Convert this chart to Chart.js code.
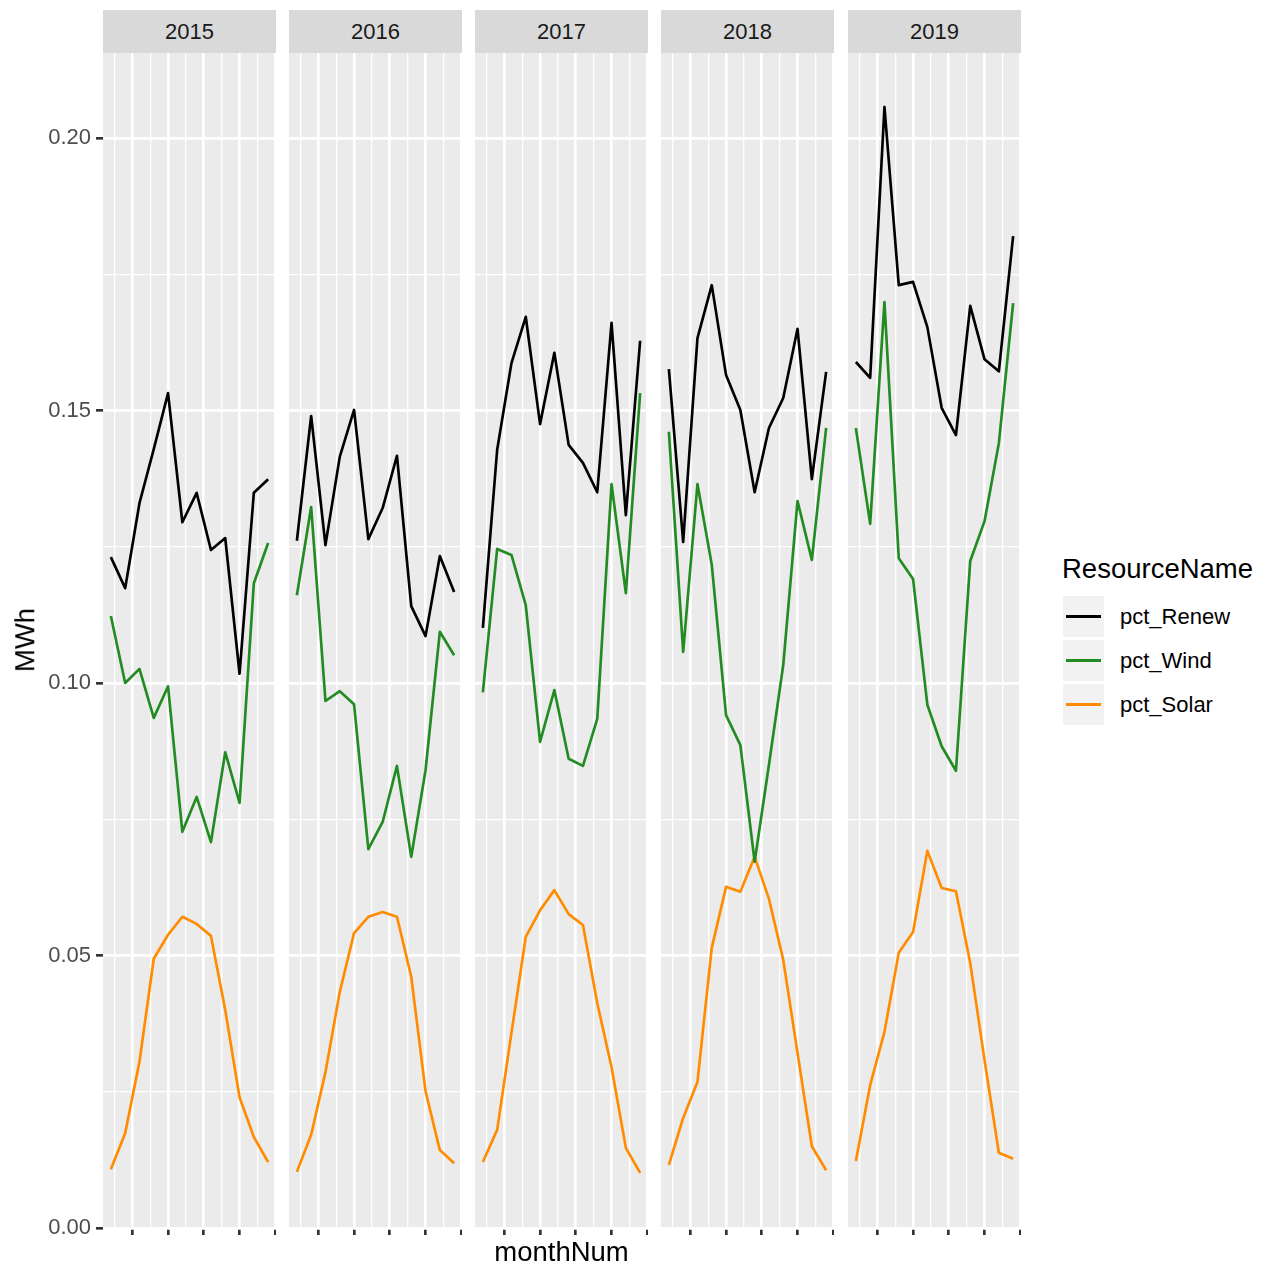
<!DOCTYPE html>
<html>
<head>
<meta charset="utf-8">
<script src="https://cdn.jsdelivr.net/npm/chart.js@4.4.1/dist/chart.umd.min.js"></script>
<style>
  body { margin: 0; background: #fff; font-family: 'Liberation Sans', Arial, sans-serif; }
  #wrap { position: relative; width: 1269px; height: 1271px; overflow: hidden; }
  canvas { position: absolute; }
  .strip { position: absolute; top: 10px; height: 43px; background: #D9D9D9; color: #1A1A1A;
           font-size: 22px; display: flex; align-items: center; justify-content: center; }
  .lbl { position: absolute; white-space: nowrap; line-height: 1; }
  .key { position: absolute; left: 1063px; width: 41px; height: 41px; background: #F2F2F2; }
  .key i { position: absolute; left: 3px; right: 3px; top: 19px; height: 2.7px; }
</style>
</head>
<body>
<div id="wrap"></div>
<script>
// facets and months
const years = ['2015', '2016', '2017', '2018', '2019'];
const months = [1, 2, 3, 4, 5, 6, 7, 8, 9, 10, 11, 12];

// one row per year, Jan..Dec
const renew = [
  [0.1231, 0.1174, 0.1330, 0.1429, 0.1532, 0.1295, 0.1349, 0.1244, 0.1266, 0.1017, 0.1349, 0.1374],
  [0.1261, 0.1490, 0.1253, 0.1415, 0.1501, 0.1264, 0.1321, 0.1417, 0.1141, 0.1086, 0.1233, 0.1167],
  [0.1101, 0.1428, 0.1587, 0.1672, 0.1475, 0.1606, 0.1437, 0.1404, 0.1350, 0.1661, 0.1308, 0.1628],
  [0.1576, 0.1259, 0.1633, 0.1730, 0.1565, 0.1501, 0.1350, 0.1468, 0.1523, 0.1650, 0.1374, 0.1571],
  [0.1589, 0.1560, 0.2057, 0.1730, 0.1736, 0.1653, 0.1505, 0.1455, 0.1692, 0.1594, 0.1572, 0.1820]
];
const wind = [
  [0.1123, 0.1000, 0.1026, 0.0936, 0.0994, 0.0727, 0.0791, 0.0708, 0.0873, 0.0780, 0.1183, 0.1257],
  [0.1161, 0.1323, 0.0967, 0.0985, 0.0961, 0.0695, 0.0745, 0.0848, 0.0681, 0.0840, 0.1094, 0.1051],
  [0.0983, 0.1246, 0.1235, 0.1143, 0.0892, 0.0987, 0.0861, 0.0848, 0.0934, 0.1365, 0.1165, 0.1532],
  [0.1461, 0.1057, 0.1365, 0.1217, 0.0941, 0.0886, 0.0672, 0.0850, 0.1033, 0.1334, 0.1226, 0.1468],
  [0.1468, 0.1292, 0.1699, 0.1229, 0.1191, 0.0960, 0.0884, 0.0839, 0.1224, 0.1297, 0.1440, 0.1697]
];
const solar = [
  [0.0108, 0.0174, 0.0305, 0.0494, 0.0538, 0.0571, 0.0558, 0.0536, 0.0400, 0.0240, 0.0167, 0.0121],
  [0.0103, 0.0171, 0.0286, 0.0433, 0.0541, 0.0571, 0.0580, 0.0571, 0.0461, 0.0251, 0.0143, 0.0119],
  [0.0121, 0.0180, 0.0358, 0.0534, 0.0583, 0.0620, 0.0576, 0.0556, 0.0413, 0.0295, 0.0147, 0.0101],
  [0.0116, 0.0202, 0.0268, 0.0514, 0.0626, 0.0617, 0.0681, 0.0604, 0.0492, 0.0321, 0.0150, 0.0106],
  [0.0123, 0.0262, 0.0360, 0.0505, 0.0543, 0.0692, 0.0624, 0.0618, 0.0486, 0.0308, 0.0138, 0.0127]
];

const seriesNames = ['pct_Renew', 'pct_Wind', 'pct_Solar'];
const seriesColors = ['#000000', '#228B22', '#FF8C00'];
const seriesData = [renew, wind, solar];

const yMajor = [0, 0.05, 0.10, 0.15, 0.20];
const yMinor = [0.025, 0.075, 0.125, 0.175];
const xMajor = [2.5, 5, 7.5, 10, 12.5];
const xMinor = [1.25, 3.75, 6.25, 8.75, 11.25];

const wrap = document.getElementById('wrap');
const FONT = "'Liberation Sans', Arial, sans-serif";
const panelLeft = [103, 289, 475, 661, 848];
const panelW = 173;
const padTop = 30, axisH = 25, plotTop = 53, plotBottom = 1228;
const lw = 2.66;

const panelBg = {
  id: 'panelBg',
  beforeDraw(chart) {
    const { ctx, chartArea: a } = chart;
    ctx.save();
    ctx.fillStyle = '#EBEBEB';
    ctx.fillRect(a.left, a.top, a.right - a.left, a.bottom - a.top);
    ctx.restore();
  }
};

const isMajor = (list, v) => list.some(m => Math.abs(m - v) < 1e-9);

years.forEach((yr, p) => {
  const first = p === 0;
  const yAxisW = first ? panelLeft[0] : 0;

  const strip = document.createElement('div');
  strip.className = 'strip';
  strip.style.left = panelLeft[p] + 'px';
  strip.style.width = panelW + 'px';
  strip.textContent = yr;
  wrap.appendChild(strip);

  const cv = document.createElement('canvas');
  const w = panelW + yAxisW;
  const h = padTop + (plotBottom - plotTop) + axisH;
  cv.width = w; cv.height = h;
  cv.style.left = (panelLeft[p] - yAxisW) + 'px';
  cv.style.top = (plotTop - padTop) + 'px';
  cv.style.width = w + 'px'; cv.style.height = h + 'px';
  wrap.appendChild(cv);

  new Chart(cv, {
    type: 'line',
    data: {
      datasets: seriesNames.map((name, s) => ({
        label: name,
        data: months.map((m, i) => ({ x: m, y: seriesData[s][p][i] })),
        borderColor: seriesColors[s],
        borderWidth: lw,
        pointRadius: 0,
        tension: 0,
        borderJoinStyle: 'round',
        fill: false
      }))
    },
    options: {
      responsive: false,
      animation: false,
      events: [],
      layout: { padding: { top: padTop, left: 0, right: 0, bottom: 0 } },
      plugins: { legend: { display: false }, tooltip: { enabled: false } },
      scales: {
        x: {
          type: 'linear',
          min: 0.45,
          max: 12.55,
          border: { display: false },
          afterBuildTicks: sc => { sc.ticks = xMinor.concat(xMajor).sort((a, b) => a - b).map(v => ({ value: v })); },
          afterFit: sc => { sc.height = axisH; },
          ticks: { display: false },
          grid: {
            color: '#FFFFFF',
            lineWidth: c => isMajor(xMajor, c.tick.value) ? lw : lw / 2,
            drawTicks: true,
            tickLength: 7,
            tickWidth: lw,
            tickColor: c => isMajor(xMajor, c.tick.value) ? '#333333' : 'rgba(0,0,0,0)'
          }
        },
        y: {
          type: 'linear',
          min: 0,
          max: 0.2156,
          border: { display: false },
          afterBuildTicks: sc => { sc.ticks = yMinor.concat(yMajor).sort((a, b) => a - b).map(v => ({ value: v })); },
          afterFit: sc => { sc.width = yAxisW; },
          ticks: {
            display: first,
            padding: 5,
            color: '#4D4D4D',
            font: { family: FONT, size: 22 },
            callback: v => isMajor(yMajor, v) ? v.toFixed(2) : ''
          },
          grid: {
            color: '#FFFFFF',
            lineWidth: c => isMajor(yMajor, c.tick.value) ? lw : lw / 2,
            drawTicks: first,
            tickLength: 7,
            tickWidth: lw,
            tickColor: c => isMajor(yMajor, c.tick.value) ? '#333333' : 'rgba(0,0,0,0)'
          }
        }
      }
    },
    plugins: [panelBg]
  });
});

// axis titles
function addLabel(text, css) {
  const d = document.createElement('div');
  d.className = 'lbl';
  d.textContent = text;
  Object.assign(d.style, css);
  wrap.appendChild(d);
  return d;
}
addLabel('monthNum', { left: '561.5px', top: '1252px', fontSize: '27.5px', color: '#000',
  transform: 'translate(-50%,-50%)' });
addLabel('MWh', { left: '25px', top: '640px', fontSize: '27.5px', color: '#000',
  transform: 'translate(-50%,-50%) rotate(-90deg)' });

// legend
addLabel('ResourceName', { left: '1062px', top: '569px', fontSize: '27.5px', color: '#000',
  transform: 'translateY(-50%)' });
seriesNames.forEach((name, s) => {
  const top = 596 + s * 44;
  const k = document.createElement('div');
  k.className = 'key';
  k.style.top = top + 'px';
  const line = document.createElement('i');
  line.style.background = seriesColors[s];
  k.appendChild(line);
  wrap.appendChild(k);
  addLabel(name, { left: '1120px', top: (top + 20.5) + 'px', fontSize: '22px', color: '#000',
    transform: 'translateY(-50%)' });
});
</script>
</body>
</html>
